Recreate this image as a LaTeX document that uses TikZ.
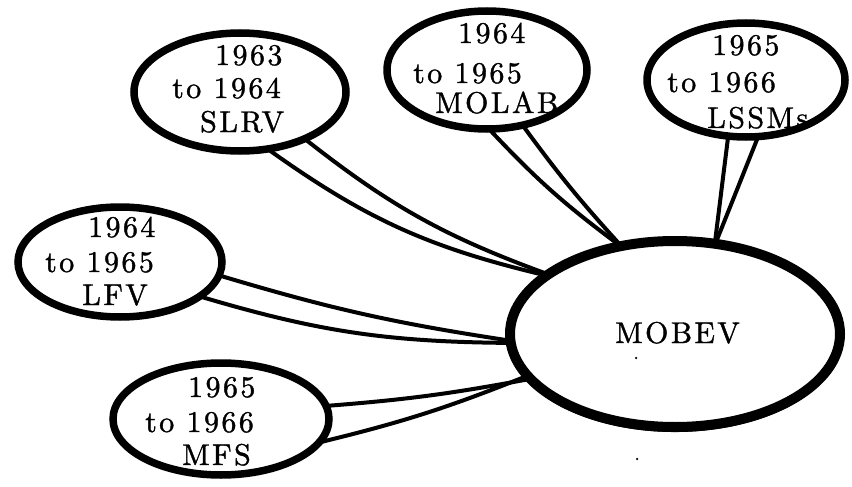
\documentclass[tikz,border=0pt]{standalone}
\usepackage{fontspec}
\newfontfamily\lblfont{lmroman10-regular.otf}[LetterSpace=8,FakeBold=1.2]
\usetikzlibrary{shapes.geometric}
\begin{document}
\begin{tikzpicture}[x=1pt,y=1pt,
  bubble/.style={draw,ellipse,line width=7.5pt,inner sep=0pt,fill=white},
  hub/.style={draw,ellipse,line width=10pt,inner sep=0pt,fill=white},
  link/.style={line width=4pt,shorten <=-2.5pt,shorten >=-2.5pt},
  lbl/.style={anchor=base west,inner sep=0pt,
    font={\lblfont\fontsize{30}{34}\selectfont}},
  speck/.style={fill=black,circle,inner sep=0pt,minimum size=2.5pt}]
\useasboundingbox (0,0) rectangle (852,-487);

% outer projects
\node[bubble,minimum width=212pt,minimum height=118pt] (slrv)  at (240,-92)  {};
\node[bubble,minimum width=200pt,minimum height=118pt] (molab) at (487,-70)  {};
\node[bubble,minimum width=198pt,minimum height=114pt] (lssm)  at (746,-80)  {};
\node[bubble,minimum width=204pt,minimum height=110pt] (lfv)   at (120,-262) {};
\node[bubble,minimum width=216pt,minimum height=112pt] (mfs)   at (221,-419) {};

% central vehicle, heavier stroke along its lower rim
\node[hub,minimum width=330pt,minimum height=186pt] (mobev) at (675,-334) {};
\draw[line width=5pt] ([yshift=-2.5pt]mobev.center) ++(200:165 and 93)
  arc[start angle=200,end angle=340,x radius=165pt,y radius=93pt];

% paired links into the hub
\draw[link] (slrv.-62)  to[bend right=11] (mobev.156);
\draw[link] (slrv.-36)  to[bend right=9]  (mobev.155);
\draw[link] (molab.-85) to[bend right=5]  (mobev.123);
\draw[link] (molab.-57) to[bend right=3]  (mobev.122);
\draw[link] (lssm.-107) -- (mobev.67);
\draw[link] (lssm.-80)  -- (mobev.66);
\draw[link] (lfv.-8)    to[bend right=4]  (mobev.182);
\draw[link] (lfv.-23)   to[bend right=8]  (mobev.183);
\draw[link] (mfs.7)     to[bend right=3]  (mobev.197);
\draw[link] (mfs.-12)   to[bend right=4]  (mobev.196);

% labels
\node[lbl] (slrv-a) at (215,-65)  {1963};
\node[lbl] (slrv-b) at (172,-98)  {to 1964};
\node[lbl] (slrv-c) at (200,-132) {SLRV};

\node[lbl] (molab-a) at (458,-43)  {1964};
\node[lbl] (molab-b) at (413,-83)  {to 1965};
\node[lbl] (molab-c) at (435,-113) {MOLAB};

\node[lbl] (lssm-a) at (712,-55)  {1965};
\node[lbl] (lssm-b) at (667,-92)  {to 1966};
\node[lbl] (lssm-c) at (707,-128) {LSSMs};

\node[lbl] (lfv-a) at (88,-237) {1964};
\node[lbl] (lfv-b) at (45,-272) {to 1965};
\node[lbl] (lfv-c) at (82,-305) {LFV};

\node[lbl] (mfs-a) at (188,-397) {1965};
\node[lbl] (mfs-b) at (145,-432) {to 1966};
\node[lbl] (mfs-c) at (182,-465) {MFS};

\node[lbl] (mobev-t) at (615,-343) {MOBEV};

% stray dots
\node[speck] (dot-a) at (636,-358) {};
\node[speck] (dot-b) at (637,-459) {};
\end{tikzpicture}
\end{document}
